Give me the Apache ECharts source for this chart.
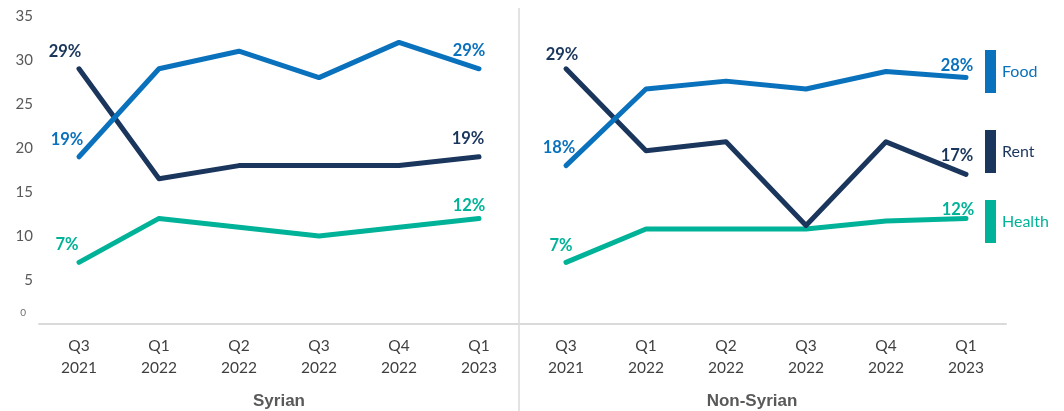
<!DOCTYPE html>
<html>
<head>
<meta charset="utf-8">
<script src="https://cdn.jsdelivr.net/npm/echarts@6/dist/echarts.min.js"></script>
<style>
  html, body { margin: 0; padding: 0; background: #ffffff; }
  #chart { width: 1064px; height: 411px; }
</style>
</head>
<body>
<div id="chart"></div>
<script>
// Quarter categories shared by both panels
const categories = ['Q3\n2021', 'Q1\n2022', 'Q2\n2022', 'Q3\n2022', 'Q4\n2022', 'Q1\n2023'];

// Share of spending (%) — Syrian households
const syrianFood = [19, 29, 31, 28, 32, 29];
const syrianRent = [29, 16.5, 18, 18, 18, 19];
const syrianHealth = [7, 12, 11, 10, 11, 12];

// Share of spending (%) — Non-Syrian households
const nonSyrianFood = [18, 26.7, 27.6, 26.7, 28.7, 28];
const nonSyrianRent = [29, 19.7, 20.7, 11.2, 20.7, 17];
const nonSyrianHealth = [7, 10.8, 10.8, 10.8, 11.7, 12];

// Value axis ticks
const yMin = 0;
const yMax = 35;
const yStep = 5;

const panelTitles = ['Syrian', 'Non-Syrian'];
const seriesNames = ['Food', 'Rent', 'Health'];

const COLORS = { Food: '#0a71bc', Rent: '#1b365d', Health: '#00b398' };
const LABEL_FONT = 'Lato, "Open Sans", sans-serif';

// Only the first and last points carry a value label
function withEndLabels(values, firstOffset, lastOffset) {
  const last = values.length - 1;
  return values.map((v, i) => {
    if (i === 0 || i === last) {
      return {
        value: v,
        label: { show: true, offset: i === 0 ? firstOffset : lastOffset }
      };
    }
    return { value: v };
  });
}

function lineSeries(name, values, panel, firstOffset, lastOffset) {
  return {
    name: name,
    type: 'line',
    xAxisIndex: panel,
    yAxisIndex: panel,
    data: withEndLabels(values, firstOffset, lastOffset),
    symbol: 'circle',
    symbolSize: 1,
    showSymbol: true,
    silent: true,
    z: name === 'Health' ? 3 : (name === 'Rent' ? 4 : 5),
    itemStyle: { color: COLORS[name] },
    lineStyle: { color: COLORS[name], width: 5, cap: 'round', join: 'round' },
    label: {
      show: false,
      position: 'top',
      distance: 4,
      color: COLORS[name],
      fontFamily: LABEL_FONT,
      fontWeight: 'bold',
      fontSize: 16.5,
      formatter: p => Math.round(p.value) + '%'
    }
  };
}

const chart = echarts.init(document.getElementById('chart'), null, { renderer: 'canvas' });

const xAxisCommon = {
  type: 'category',
  data: categories,
  boundaryGap: true,
  axisTick: { show: false },
  axisLine: { show: true, lineStyle: { color: '#dadada', width: 2 } },
  axisLabel: {
    color: '#3f3f3f',
    fontFamily: LABEL_FONT,
    fontSize: 15.5,
    lineHeight: 22,
    margin: 11,
    interval: 0
  },
  splitLine: { show: false }
};

const option = {
  backgroundColor: '#ffffff',
  animation: false,
  grid: [
    { left: 39, right: 1064 - 519, top: 16, bottom: 87 },
    { left: 526, right: 1064 - 1006, top: 16, bottom: 87 }
  ],
  xAxis: [
    Object.assign({ gridIndex: 0 }, xAxisCommon),
    Object.assign({ gridIndex: 1 }, xAxisCommon)
  ],
  yAxis: [
    {
      gridIndex: 0,
      type: 'value',
      min: yMin,
      max: yMax,
      interval: yStep,
      axisLine: { show: false },
      axisTick: { show: false },
      splitLine: { show: false },
      axisLabel: {
        color: '#595959',
        fontFamily: LABEL_FONT,
        fontSize: 15,
        margin: 6,
        formatter: v => (v === 0 ? '{z|0}' : String(v)),
        rich: {
          z: { fontSize: 10, color: '#6f6f6f', fontFamily: LABEL_FONT, padding: [0, 7, 22, 0] }
        }
      }
    },
    {
      gridIndex: 1,
      type: 'value',
      min: yMin,
      max: yMax,
      interval: yStep,
      show: false,
      splitLine: { show: false }
    }
  ],
  legend: seriesNames.map((name, i) => ({
    data: [name],
    orient: 'vertical',
    left: 980,
    top: [45, 125, 195][i],
    icon: 'rect',
    itemWidth: 11,
    itemHeight: 43,
    itemGap: 0,
    selectedMode: false,
    textStyle: {
      color: COLORS[name],
      fontFamily: LABEL_FONT,
      fontSize: 16,
      padding: [0, 0, 0, 1]
    }
  })),
  graphic: [
    {
      type: 'line',
      shape: { x1: 519, y1: 8, x2: 519, y2: 411 },
      style: { stroke: '#dadada', lineWidth: 1.5 },
      silent: true
    },
    {
      // bridge the baseline across the gap between the two panels
      type: 'line',
      shape: { x1: 519, y1: 324, x2: 526, y2: 324 },
      style: { stroke: '#dadada', lineWidth: 2 },
      silent: true
    },
    {
      type: 'text',
      x: 279,
      y: 401,
      style: {
        text: panelTitles[0],
        textAlign: 'center',
        textVerticalAlign: 'middle',
        fill: '#595959',
        font: 'bold 17px "Liberation Sans", Arial, sans-serif'
      },
      silent: true
    },
    {
      type: 'text',
      x: 752,
      y: 401,
      style: {
        text: panelTitles[1],
        textAlign: 'center',
        textVerticalAlign: 'middle',
        fill: '#595959',
        font: 'bold 17px "Liberation Sans", Arial, sans-serif'
      },
      silent: true
    }
  ],
  series: [
    lineSeries('Food', syrianFood, 0, [-12, -4], [-10, -5]),
    lineSeries('Rent', syrianRent, 0, [-14, -4], [-11, -5]),
    lineSeries('Health', syrianHealth, 0, [-12, -5], [-10, 0]),
    lineSeries('Food', nonSyrianFood, 1, [-7, -5], [-9, 1]),
    lineSeries('Rent', nonSyrianRent, 1, [-4, -1], [-9, -6]),
    lineSeries('Health', nonSyrianHealth, 1, [-5, -4], [-8, 4])
  ]
};

chart.setOption(option);
</script>
</body>
</html>
